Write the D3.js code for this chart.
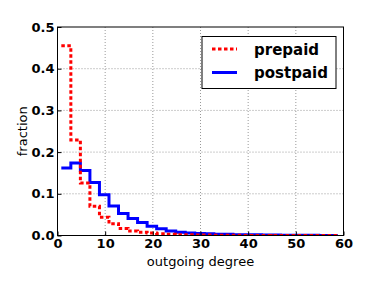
<!DOCTYPE html>
<html>
<head>
<meta charset="utf-8">
<script src="https://cdn.jsdelivr.net/npm/d3@7"></script>
<style>
  body { margin: 0; background: #fff; }
  text { font-family: "DejaVu Sans", sans-serif; }
</style>
</head>
<body>
<script>
"use strict";
// bin edges start at 0.8, width 2
const binStart = 0.8
const binWidth = 2
const prepaid = [0.455, 0.229, 0.126, 0.070, 0.044, 0.028, 0.017, 0.011, 0.008, 0.006, 0.004, 0.003, 0.002, 0.0015, 0.001, 0.001, 0.0007, 0.0005, 0.0004, 0.0003, 0.0002, 0.0002, 0.0001, 0.0001, 0.0001, 0.0001, 0.0001, 0.0001, 0.0001]
const postpaid = [0.162, 0.174, 0.156, 0.127, 0.098, 0.071, 0.053, 0.041, 0.031, 0.022, 0.016, 0.011, 0.008, 0.006, 0.005, 0.004, 0.003, 0.003, 0.002, 0.002, 0.0015, 0.0012, 0.001, 0.0008, 0.0006, 0.0005, 0.0004, 0.0003, 0.0003]
const xTicks = [0, 10, 20, 30, 40, 50, 60]
const yTicks = [0.0, 0.1, 0.2, 0.3, 0.4, 0.5]
const seriesNames = ["prepaid", "postpaid"]

const measurements = { width: 382, height: 287, left: 57.5, right: 343.5, top: 27, bottom: 235.5 }

const svg = d3.select("body").append("svg")
    .attr("width", measurements.width)
    .attr("height", measurements.height)

const scaleX = d3.scaleLinear().domain([0, 60]).range([measurements.left, measurements.right])
const scaleY = d3.scaleLinear().domain([0, 0.5]).range([measurements.bottom, measurements.top])

// grid
svg.append("g").selectAll("line")
    .data(xTicks.slice(1, -1))
    .enter().append("line")
    .attr("x1", d => scaleX(d)).attr("x2", d => scaleX(d))
    .attr("y1", measurements.top).attr("y2", measurements.bottom)
    .attr("stroke", "#999").attr("stroke-width", 1).attr("stroke-dasharray", "1,2")
svg.append("g").selectAll("line")
    .data(yTicks.slice(1, -1))
    .enter().append("line")
    .attr("y1", d => scaleY(d)).attr("y2", d => scaleY(d))
    .attr("x1", measurements.left).attr("x2", measurements.right)
    .attr("stroke", "#999").attr("stroke-width", 1).attr("stroke-dasharray", "1,2")

function stepPoints(vals) {
    let pts = []
    vals.forEach((v, i) => {
        let x0 = binStart + i * binWidth
        pts.push([x0, v], [Math.min(x0 + binWidth, 60), v])
    })
    return pts
}

const line = d3.line().x(d => scaleX(d[0])).y(d => scaleY(d[1]))

svg.append("defs").append("clipPath").attr("id", "clip")
    .append("rect")
    .attr("x", measurements.left).attr("y", measurements.top)
    .attr("width", measurements.right - measurements.left)
    .attr("height", measurements.bottom - measurements.top)

svg.append("path")
    .attr("clip-path", "url(#clip)")
    .attr("d", line(stepPoints(postpaid)))
    .attr("fill", "none").attr("stroke", "#0000ff").attr("stroke-width", 3)

svg.append("path")
    .attr("clip-path", "url(#clip)")
    .attr("d", line(stepPoints(prepaid)))
    .attr("fill", "none").attr("stroke", "#ff0000").attr("stroke-width", 3)
    .attr("stroke-dasharray", "3.5,2.5")

// axes
let xAxis = d3.axisBottom(scaleX).tickValues(xTicks).tickFormat(d3.format("d")).tickSizeInner(-4).tickSizeOuter(0).tickPadding(3)
let yAxis = d3.axisLeft(scaleY).tickValues(yTicks).tickFormat(d3.format(".1f")).tickSizeInner(-4).tickSizeOuter(0).tickPadding(3)

const gx = svg.append("g").attr("transform", `translate(0, ${measurements.bottom})`).call(xAxis)
const gy = svg.append("g").attr("transform", `translate(${measurements.left}, 0)`).call(yAxis)
;[gx, gy].forEach(g => {
    g.select(".domain").remove()
    g.selectAll("text").attr("font-size", 13).attr("font-weight", "bold").attr("fill", "#000")
        .style("font-family", "DejaVu Sans")
})

// frame
svg.append("rect")
    .attr("x", measurements.left).attr("y", measurements.top)
    .attr("width", measurements.right - measurements.left)
    .attr("height", measurements.bottom - measurements.top)
    .attr("fill", "none").attr("stroke", "#000").attr("stroke-width", 1)

svg.append("text")
    .attr("x", (measurements.left + measurements.right) / 2).attr("y", 266)
    .attr("text-anchor", "middle").attr("font-size", 13)
    .text("outgoing degree")

svg.append("text")
    .attr("transform", `translate(27, ${(measurements.top + measurements.bottom) / 2}) rotate(-90)`)
    .attr("text-anchor", "middle").attr("font-size", 13)
    .text("fraction")

// legend
const legend = svg.append("g")
legend.append("rect")
    .attr("x", 202).attr("y", 36.5).attr("width", 134).attr("height", 52)
    .attr("fill", "#fff").attr("stroke", "#000").attr("stroke-width", 1)
const legendStyles = [
    { color: "#ff0000", dash: "3.5,2.5" },
    { color: "#0000ff", dash: null }
]
seriesNames.forEach((name, i) => {
    let y = 49 + i * 23.5
    legend.append("line")
        .attr("x1", 212).attr("x2", 237).attr("y1", y).attr("y2", y)
        .attr("stroke", legendStyles[i].color).attr("stroke-width", 3)
        .attr("stroke-dasharray", legendStyles[i].dash)
    legend.append("text")
        .attr("x", 254).attr("y", y + 5.5)
        .attr("font-size", 15).attr("font-weight", "bold")
        .text(name)
})
</script>
</body>
</html>
